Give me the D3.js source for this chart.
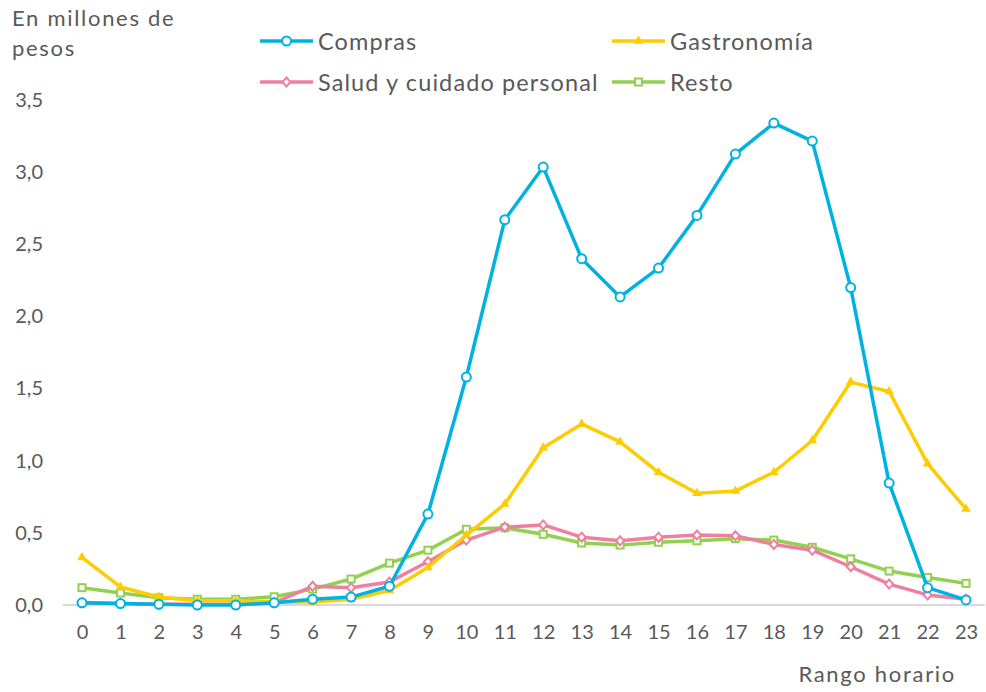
<!DOCTYPE html>
<html>
<head>
<meta charset="utf-8">
<script src="https://cdn.jsdelivr.net/npm/d3@7"></script>
<style>
  body { margin: 0; background: #fff; }
  text { font-family: Lato, "Open Sans", sans-serif; fill: #595959; }
</style>
</head>
<body>
<div class="lineChart"></div>
<script>
const hours = d3.range(0, 24);
const yTicks = [0, 0.5, 1, 1.5, 2, 2.5, 3, 3.5];

const compras = [0.015, 0.01, 0.005, 0.0, 0.0, 0.015, 0.04, 0.055, 0.13, 0.63, 1.58, 2.67,
  3.035, 2.4, 2.135, 2.335, 2.7, 3.125, 3.34, 3.215, 2.2, 0.845, 0.12, 0.035];
const gastronomia = [0.33, 0.125, 0.055, 0.03, 0.03, 0.02, 0.02, 0.04, 0.1, 0.26, 0.485, 0.7,
  1.09, 1.255, 1.13, 0.92, 0.775, 0.79, 0.92, 1.14, 1.545, 1.48, 0.98, 0.665];
const salud = [0.015, 0.01, 0.005, 0.005, 0.005, 0.015, 0.13, 0.12, 0.16, 0.3, 0.45, 0.54,
  0.555, 0.47, 0.445, 0.47, 0.485, 0.48, 0.42, 0.38, 0.265, 0.145, 0.07, 0.04];
const resto = [0.12, 0.083, 0.05, 0.04, 0.04, 0.057, 0.11, 0.18, 0.29, 0.38, 0.525, 0.535,
  0.49, 0.43, 0.415, 0.435, 0.445, 0.46, 0.45, 0.4, 0.32, 0.235, 0.19, 0.15];

const series = [
  { name: "Compras", values: compras, color: "#00b2e2", marker: "circle" },
  { name: "Gastronomía", values: gastronomia, color: "#ffcc00", marker: "triangle" },
  { name: "Salud y cuidado personal", values: salud, color: "#ef7fa0", marker: "diamond" },
  { name: "Resto", values: resto, color: "#92d050", marker: "square" },
];

const svgWidth = 986;
const svgHeight = 692;
const svg = d3.select(".lineChart").append("svg")
  .attr("width", svgWidth).attr("height", svgHeight);

const xScale = d3.scalePoint().domain(hours).range([82, 966]);
const yScale = d3.scaleLinear().domain([0, 3.5]).range([605, 100]);

// axis title
svg.append("text").attr("x", 12).attr("y", 26).attr("font-size", 22)
  .attr("letter-spacing", 1.7).text("En millones de");
svg.append("text").attr("x", 12).attr("y", 56).attr("font-size", 22)
  .attr("letter-spacing", 1.7).text("pesos");

// y axis labels
const fmt = (d) => d3.format(".1f")(d).replace(".", ",");
const yAxisG = svg.append("g").attr("transform", "translate(43,0)")
  .call(d3.axisLeft(yScale).tickValues(yTicks).tickFormat(fmt).tickSize(0).tickPadding(0));
yAxisG.select(".domain").remove();
yAxisG.selectAll("text").attr("font-size", 20).attr("font-family", null).attr("fill", "#595959");

// baseline
svg.append("line").attr("x1", 63).attr("x2", 985)
  .attr("y1", yScale(0)).attr("y2", yScale(0))
  .attr("stroke", "#d9d9d9").attr("stroke-width", 2);

// x axis labels
const xAxisG = svg.append("g").attr("transform", `translate(0, ${yScale(0)})`)
  .call(d3.axisBottom(xScale).tickSize(0).tickPadding(20));
xAxisG.select(".domain").remove();
xAxisG.selectAll("text").attr("font-size", 20).attr("font-family", null).attr("fill", "#595959");

svg.append("text").attr("x", 956).attr("y", 682).attr("text-anchor", "end")
  .attr("font-size", 22).attr("letter-spacing", 1.7).text("Rango horario");

const drawMarker = (sel, s) => {
  if (s.marker === "circle") {
    sel.append("circle").attr("r", 4.5).attr("fill", "#fff")
      .attr("stroke", s.color).attr("stroke-width", 2);
  } else if (s.marker === "triangle") {
    sel.append("path").attr("d", d3.symbol(d3.symbolTriangle, 40)())
      .attr("fill", s.color);
  } else if (s.marker === "diamond") {
    sel.append("path").attr("d", "M0,-4.5L4,0L0,4.5L-4,0Z").attr("fill", "#fff")
      .attr("stroke", s.color).attr("stroke-width", 2);
  } else {
    sel.append("rect").attr("x", -3.5).attr("y", -3.5).attr("width", 7).attr("height", 7)
      .attr("fill", "#fff").attr("stroke", s.color).attr("stroke-width", 2);
  }
};

const line = d3.line().x((d, i) => xScale(hours[i])).y((d) => yScale(d));

// draw order: green, pink, yellow, blue on top
const order = [3, 2, 1, 0];
order.forEach((k) => {
  const s = series[k];
  const g = svg.append("g");
  g.append("path").datum(s.values).attr("d", line)
    .attr("fill", "none").attr("stroke", s.color).attr("stroke-width", 3.5)
    .attr("stroke-linejoin", "round");
  g.selectAll("g.pt").data(s.values).enter().append("g")
    .attr("class", "pt")
    .attr("transform", (d, i) => `translate(${xScale(hours[i])},${yScale(d)})`)
    .each(function () { drawMarker(d3.select(this), s); });
});

// legend
const legendPos = [[260, 41], [612, 41], [260, 82], [612, 82]];
series.forEach((s, i) => {
  const [lx, ly] = legendPos[i];
  const g = svg.append("g").attr("transform", `translate(${lx},${ly})`);
  g.append("line").attr("x1", 0).attr("x2", 53).attr("stroke", s.color).attr("stroke-width", 3.5);
  const m = g.append("g").attr("transform", "translate(26.5,0)");
  drawMarker(m, s);
  g.append("text").attr("x", 58).attr("y", 8.5).attr("font-size", 23.5)
    .attr("letter-spacing", 1.1).text(s.name);
});
</script>
</body>
</html>
